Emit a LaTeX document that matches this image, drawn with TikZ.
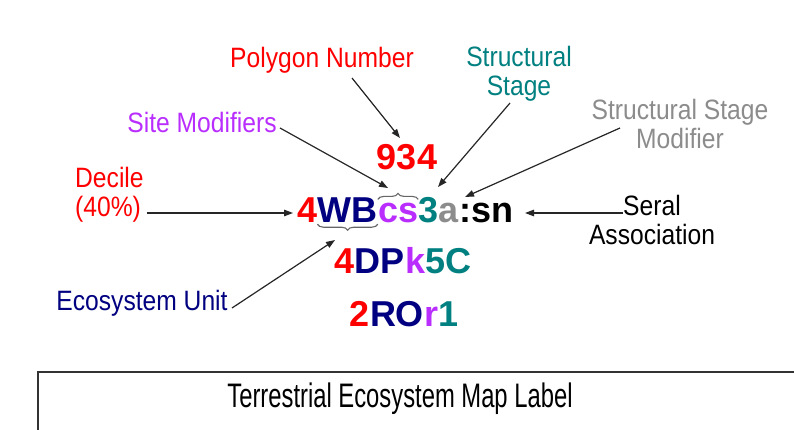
\documentclass[tikz,border=0pt]{standalone}
\usepackage{fontspec}
\setmainfont{Liberation Sans}
\newfontfamily\labfont[FakeStretch=0.88]{Liberation Sans}
\newfontfamily\titfont[FakeStretch=0.7]{Liberation Sans}
\usetikzlibrary{arrows.meta,decorations.pathreplacing}
\definecolor{cred}{HTML}{FF0000}
\definecolor{cnavy}{HTML}{000080}
\definecolor{cpurple}{HTML}{B92EFF}
\definecolor{cteal}{HTML}{008080}
\definecolor{cgray}{HTML}{8C8C8C}
\tikzset{
  code/.style={inner sep=0pt, font=\fontsize{36}{40}\selectfont\bfseries},
  lab/.style={inner sep=0pt, font=\labfont\fontsize{28}{29}\selectfont, align=center},
  arr/.style={-{Triangle[length=9pt,width=6.5pt]}, line width=1.2pt, black!85},
  brc/.style={decorate, decoration={brace, amplitude=6pt}, line width=1.1pt, black!60},
}
\begin{document}
\begin{tikzpicture}[x=1pt,y=1pt]
\useasboundingbox (0,0) rectangle (794,429);
\fill[white] (0,0) rectangle (794,429);
% code rows
\node[code, text=cred] (n934) at (407,272) {934};
\node[code, anchor=base west, text=cred] (c4) at (297,207) {4};
\node[code, anchor=base west, text=cnavy] (cwb) at (c4.base east) {WB};
\node[code, anchor=base west, text=cpurple] (ccs) at (cwb.base east) {cs};
\node[code, anchor=base west, text=cteal] (c3) at (ccs.base east) {3};
\node[code, anchor=base west, text=cgray] (ca) at (c3.base east) {a};
\node[code, anchor=base west, text=black] (csn) at (ca.base east) {:sn};
\node[code, anchor=base] (row2) at (403,156) {\color{cred}4\color{cnavy}DP\color{cpurple}k\color{cteal}5C};
\node[code, anchor=base] (row3) at (404,103) {\color{cred}2\color{cnavy}RO\color{cpurple}r\color{cteal}1};
% braces
\draw[brc] ([yshift=3pt]ccs.north west) -- ([yshift=3pt]ccs.north east);
\draw[brc] ([yshift=-2pt]cwb.south east) -- ([yshift=-2pt]cwb.south west);
% labels
\node[lab, text=cred] (poly) at (322,369) {Polygon Number};
\node[lab, text=cteal] (sst) at (519,355) {Structural\\Stage};
\node[lab, text=cgray] (ssm) at (680,305) {Structural Stage\\Modifier};
\node[lab, text=cpurple] (site) at (202,307) {Site Modifiers};
\node[lab, text=cred, align=left, anchor=west] (dec) at (75,234) {Decile\\(40\%)};
\node[lab, text=black] (ser) at (652,209) {Seral\\Association};
\node[lab, text=cnavy] (eco) at (142,126) {Ecosystem Unit};
% arrow endpoints
\coordinate (polyS) at (352,351); \coordinate (polyE) at (400,291);
\coordinate (siteS) at (280,301); \coordinate (siteE) at (388,241);
\coordinate (decS) at (147,216); \coordinate (decE) at (293,216);
\coordinate (sstS) at (510,326); \coordinate (sstE) at (438,242);
\coordinate (ssmS) at (620,301); \coordinate (ssmE) at (465,232);
\coordinate (serS) at (623,216); \coordinate (serE) at (525,216);
\coordinate (ecoS) at (232,121); \coordinate (ecoE) at (335,189);
\draw[arr] (polyS) -- (polyE);
\draw[arr] (siteS) -- (siteE);
\draw[arr] (decS) -- (decE);
\draw[arr] (sstS) -- (sstE);
\draw[arr] (ssmS) -- (ssmE);
\draw[arr] (serS) -- (serE);
\draw[arr] (ecoS) -- (ecoE);
% title box
\draw[line width=1.5pt, black!80] (38,-10) -- (38,57) -- (810,57);
\node[inner sep=0pt, font=\titfont\fontsize{34}{38}\selectfont] (title) at (400,30) {Terrestrial Ecosystem Map Label};
\end{tikzpicture}
\end{document}
